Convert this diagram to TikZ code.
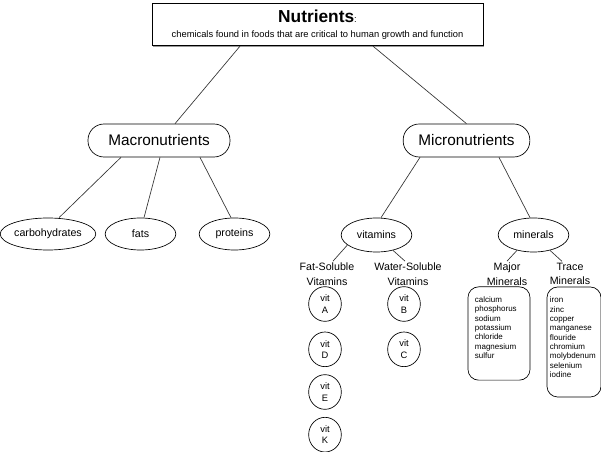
\documentclass[tikz,border=0pt]{standalone}
\usepackage{fontspec}
\setmainfont{Liberation Sans}
\usetikzlibrary{positioning, shapes.geometric, calc, shadows}
\tikzset{
  x=0.75pt, y=-0.75pt,
  link/.style={line width=0.5pt, draw=black!80},
  titlebox/.style={draw, line width=0.5pt, minimum width=248pt, minimum height=32pt, align=center,
    fill=white, drop shadow={shadow xshift=0.8pt, shadow yshift=-0.8pt, fill=gray, opacity=0.8},
    font=\fontsize{7}{11.25}\selectfont},
  pill/.style={draw, line width=0.5pt, rounded corners=12pt, minimum height=24.75pt, inner sep=0pt,
    font=\fontsize{11.5}{13}\selectfont},
  oval/.style={draw, line width=0.5pt, ellipse, minimum width=53pt, minimum height=24pt, inner sep=0pt,
    font=\fontsize{8}{10}\selectfont},
  vitc/.style={draw, line width=0.5pt, ellipse, minimum width=24.5pt, minimum height=26pt, inner sep=0pt,
    align=center, font=\fontsize{7}{8.5}\selectfont},
  head/.style={align=center, inner sep=1pt, font=\fontsize{8}{11}\selectfont},
  listbox/.style={draw, line width=0.5pt, rounded corners=8pt},
  list/.style={align=left, inner sep=0pt, font=\fontsize{6}{7}\selectfont},
}

\begin{document}
\begin{tikzpicture}
        \useasboundingbox (0,0) rectangle (601,452);

        % nodes
        \node[titlebox] (top) at (317.5,24.5)
          {{\fontsize{13}{15}\selectfont\bfseries Nutrients}:\\
           chemicals found in foods that are critical to human growth and function};
        \node[pill, minimum width=106.5pt] (macro) at (159,140.5) {Macronutrients};
        \node[pill, minimum width=95pt] (micro) at (466.5,140.5) {Micronutrients};

        \node[oval, minimum width=60pt] (carbs) at (48,234) {carbohydrates};
        \node[oval] (fats) at (140.5,234) {fats};
        \node[oval] (prot) at (234.5,234) {proteins};
        \node[oval, minimum height=25.5pt] (vit) at (376.5,235) {vitamins};
        \node[oval, minimum height=25.5pt] (min) at (533.5,235) {minerals};

        \node[head] (fsv) at (327,274) {Fat-Soluble\\Vitamins};
        \node[head] (wsv) at (408,274) {Water-Soluble\\Vitamins};
        \node[head] (mjl) at (507,274) {Major\\Minerals};
        \node[head] (trl) at (570,274) {Trace\\Minerals};

        % vitamins
        \node[vitc] (va) at (325,304) {vit\\A};
        \node[vitc, below=7.5pt of va] (vd) {vit\\D};
        \node[vitc, below=5.5pt of vd] (ve) {vit\\E};
        \node[vitc, below=5.5pt of ve] (vk) {vit\\K};
        \node[vitc] (vb) at (404,304) {vit\\B};
        \node[vitc, below=7.5pt of vb] (vc) {vit\\C};

        % minerals
        \node[listbox, minimum width=46.5pt, minimum height=70pt] (mjr) at (499,333.5) {};
        \node[listbox, minimum width=40.5pt, minimum height=82.5pt] (trc) at (574,342) {};
        \node[list, anchor=north west] (mjrlist) at ($(mjr.north west)+(7,10)$)
          {calcium\\phosphorus\\sodium\\potassium\\chloride\\magnesium\\sulfur};
        \node[list, anchor=north west] (trclist) at ($(trc.north west)+(3,10)$)
          {iron\\zinc\\copper\\manganese\\flouride\\chromium\\molybdenum\\selenium\\iodine};

        % links
        \draw[link] ($(top.south)+(-77.5,0)$) -- ($(macro.north)+(16,0)$)
              ($(top.south)+(55.5,0)$) -- (micro.north)
              ($(macro.south)+(-38,0)$) -- ($(carbs.north)+(11,0)$)
              ($(macro.south)+(1,0)$) -- ($(fats.north)+(3.5,0)$)
              ($(macro.south)+(41,0)$) -- ($(prot.north)+(-3.5,0)$)
              ($(micro.south)+(-46.5,0)$) -- ($(vit.north)+(4.5,0)$)
              ($(micro.south)+(32.5,0)$) -- ($(min.north)+(-3.5,0)$)
              (vit.199) -- ($(fsv.north)+(6,0)$)
              (vit.317) -- ($(wsv.north)+(-3,0)$)
              (min.223) -- (mjl.north)
              (min.317) -- ($(trl.north)+(-8,0)$);
\end{tikzpicture}
\end{document}
